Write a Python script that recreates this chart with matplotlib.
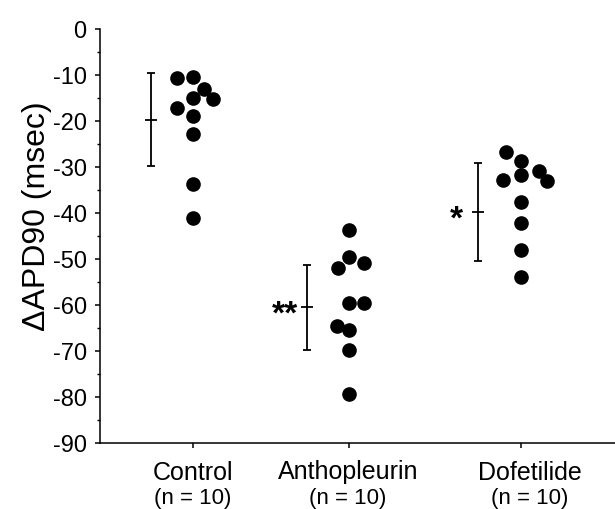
import matplotlib
matplotlib.use("Agg")
import matplotlib.pyplot as plt
from matplotlib.ticker import MultipleLocator
from matplotlib.transforms import blended_transform_factory, ScaledTranslation

plt.rcParams["font.family"] = ["Liberation Sans", "DejaVu Sans"]
plt.rcParams["axes.unicode_minus"] = False

#data (msec)
groups = ["Control", "Anthopleurin", "Dofetilide"]
n_labels = ["(n = 10)", "(n = 10)", "(n = 10)"]
control = [-10.6, -10.5, -13.0, -15.0, -15.2, -17.1, -18.9, -22.9, -33.8, -41.0]
anthopleurin = [-43.6, -49.5, -50.8, -52.0, -59.6, -59.6, -64.5, -65.4, -69.7, -79.4]
dofetilide = [-26.7, -28.8, -30.8, -32.8, -31.7, -33.0, -37.7, -42.1, -48.1, -53.9]
means = [-19.7, -60.5, -39.8]
sds = [10.1, 9.2, 10.6]
stars = ["", "**", "*"]

#layout: group centres and sideways spread of the dots so they don't overlap
centres = [1.0, 2.0, 3.1]
control_dx = [-0.105, 0, 0.07, 0, 0.13, -0.105, 0, 0, 0, 0]
antho_dx = [0, 0, 0.095, -0.07, 0, 0.095, -0.08, 0, 0, 0]
dofe_dx = [-0.095, 0, 0.115, -0.115, 0, 0.17, 0, 0, 0, 0]
bar_shift = -0.27
star_gap = [0, -6, -11]     # points left of the bar
label_nudge = [0, -1, 9]    # pixels, the original labels aren't quite centred

fig = plt.figure(figsize=(6.15, 5.09), dpi=100)
ax = fig.add_axes([100 / 615, 66 / 509, 515 / 615, 414 / 509])

for c, vals, dx in zip(centres, [control, anthopleurin, dofetilide], [control_dx, antho_dx, dofe_dx]):
    ax.plot([c + d for d in dx], vals, "o", color="black", ms=9.5, mec="black", clip_on=False)

for c, m, s, st, g in zip(centres, means, sds, stars, star_gap):
    bx = c + bar_shift
    ax.errorbar(bx, m, yerr=s, fmt="_", color="black", ms=9, mew=1.3,
                elinewidth=1.3, capsize=3, capthick=1.3)
    if st:
        ax.annotate(st, (bx, m), xytext=(g, -12), textcoords="offset points",
                    ha="right", va="baseline", fontsize=24, fontweight="bold")

ax.set_xlim(0.404, 3.705)
ax.set_ylim(-90, 0)
ax.spines["top"].set_visible(False)
ax.spines["right"].set_visible(False)
for sp in ["left", "bottom"]:
    ax.spines[sp].set_linewidth(1.1)

ax.yaxis.set_major_locator(MultipleLocator(10))
ax.yaxis.set_minor_locator(MultipleLocator(5))
ax.set_yticklabels([str(int(t)) for t in ax.get_yticks()])
ax.tick_params(axis="y", which="major", length=3.6, width=1.1, pad=6, labelsize=17)
ax.tick_params(axis="y", which="minor", length=2.2, width=1.0)
ax.set_xticks(centres)
ax.set_xticklabels(groups, fontsize=18)
ax.tick_params(axis="x", length=3.6, width=1.1, pad=9)
for lab, dx in zip(ax.get_xticklabels(), label_nudge):
    lab.set_transform(lab.get_transform() + ScaledTranslation(dx / 100, 0, fig.dpi_scale_trans))

trans = blended_transform_factory(ax.transData, fig.transFigure)
for c, nl, dx in zip(centres, n_labels, label_nudge):
    t = ax.text(c, 0.01, nl, transform=trans, ha="center", va="baseline", fontsize=16)
    t.set_transform(trans + ScaledTranslation(dx / 100, 0, fig.dpi_scale_trans))

fig.text(37 / 615, 1 - 216 / 509, "ΔAPD90 (msec)", rotation=90, ha="center", va="center", fontsize=23)

fig.savefig("out.png", dpi=100)
